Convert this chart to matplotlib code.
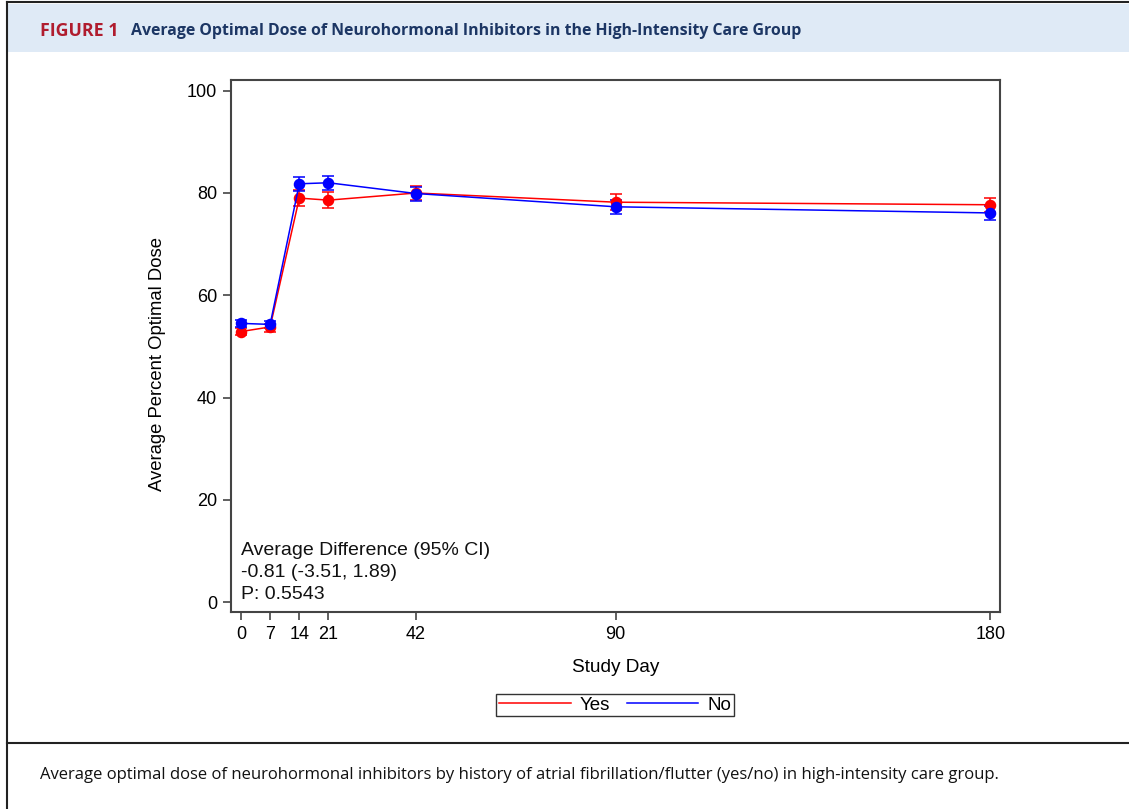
import matplotlib
matplotlib.use("Agg")
import matplotlib.pyplot as plt
from matplotlib.lines import Line2D
from matplotlib.patches import Rectangle
import numpy as np

# ---------------- data ----------------
days = [0, 7, 14, 21, 42, 90, 180]
yes_mean = [52.9, 53.8, 79.0, 78.6, 80.0, 78.2, 77.7]
yes_low = [52.3, 52.9, 77.4, 77.1, 78.6, 76.6, 76.2]
yes_high = [53.5, 54.4, 80.5, 80.1, 81.4, 79.8, 79.1]
no_mean = [54.5, 54.3, 81.8, 82.0, 79.9, 77.3, 76.1]
no_low = [53.8, 53.5, 80.4, 80.6, 78.5, 75.9, 74.8]
no_high = [55.1, 54.9, 83.1, 83.3, 81.2, 78.6, 77.4]
series_labels = ["Yes", "No"]
x_ticks = [0, 7, 14, 21, 42, 90, 180]
y_ticks = [0, 20, 40, 60, 80, 100]
annotation = "Average Difference (95% CI)\n-0.81 (-3.51, 1.89)\nP: 0.5543"
fig_label = "FIGURE 1"
title = "Average Optimal Dose of Neurohormonal Inhibitors in the High-Intensity Care Group"
caption = ("Average optimal dose of neurohormonal inhibitors by history of atrial "
           "fibrillation/flutter (yes/no) in high-intensity care group.")
x_label = "Study Day"
y_label = "Average Percent Optimal Dose"

W, H = 1129, 809
fig = plt.figure(figsize=(W / 100, H / 100), dpi=100)
fig.patch.set_facecolor("white")

def fx(px):
    return px / W

def fy(py):
    return 1 - py / H

# ---------- frame / header ----------
fig.add_artist(Rectangle((fx(8), fy(52)), 1 - fx(8), fy(4) - fy(52),
                         transform=fig.transFigure, facecolor="#dfeaf6",
                         edgecolor="none", zorder=0))
fig.add_artist(Line2D([fx(7), 1], [fy(2), fy(2)], transform=fig.transFigure,
                      color="#222222", lw=1.5))
fig.add_artist(Line2D([fx(7), fx(7)], [0, fy(2)], transform=fig.transFigure,
                      color="#222222", lw=1.5))
fig.add_artist(Line2D([fx(7), 1], [fy(743), fy(743)], transform=fig.transFigure,
                      color="#222222", lw=1.5))

renderer = fig.canvas.get_renderer()

def fit(txt, target_w):
    for _ in range(4):
        bb = txt.get_window_extent(renderer=renderer)
        txt.set_fontsize(txt.get_fontsize() * target_w / bb.width)

t1 = fig.text(fx(40), fy(31), fig_label, color="#b01c2e", fontweight="bold",
              family="Open Sans", fontsize=10, va="center", ha="left")
fit(t1, 78)
t2 = fig.text(fx(131), fy(31), title, color="#1c3664", fontweight="bold",
              family="Open Sans", fontsize=10, va="center", ha="left")
fit(t2, 669)
t3 = fig.text(fx(40), fy(775), caption, color="#111111",
              family="Open Sans", fontsize=10, va="center", ha="left")
fit(t3, 955)

# ---------------- axes ----------------
ax = fig.add_axes([fx(231), fy(612), fx(1000) - fx(231), fy(80) - fy(612)])
ax.set_xlim(-2.4, 182.3)
ax.set_ylim(-1.95, 102.1)

font = "Liberation Sans"
for mean, lo, hi, col, lab in [(yes_mean, yes_low, yes_high, "#ff0000", series_labels[0]),
                               (no_mean, no_low, no_high, "#0000ff", series_labels[1])]:
    m = np.array(mean)
    yerr = np.vstack([m - np.array(lo), np.array(hi) - m])
    ax.errorbar(days, m, yerr=yerr, color=col, lw=1.1, marker="o", markersize=7.3,
                capsize=4.5, capthick=1.1, elinewidth=1.1, label=lab)

ax.set_xticks(x_ticks)
ax.set_yticks(y_ticks)
ax.tick_params(direction="out", length=6, width=1.2, color="#444444",
               labelsize=13, pad=4)
for lbl in ax.get_xticklabels() + ax.get_yticklabels():
    lbl.set_family(font)
for sp in ax.spines.values():
    sp.set_color("#444444")
    sp.set_linewidth(1.5)

ax.set_xlabel(x_label, fontsize=13.7, family=font)
ax.xaxis.label.set_va("center")
ax.xaxis.set_label_coords(0.5, (612 - 667) / 532)
ax.set_ylabel(y_label, fontsize=13.3, family=font)
ax.yaxis.label.set_va("center")
ax.yaxis.set_label_coords((157 - 231) / 769, (612 - 364) / 532)

ax.text(0, 11.8, annotation, fontsize=14, family=font, ha="left", va="top",
        linespacing=1.4, color="#111111")

handles = [Line2D([], [], color="#ff0000", lw=1.1), Line2D([], [], color="#0000ff", lw=1.1)]
leg = fig.legend(handles, series_labels, loc="center",
                 bbox_to_anchor=(fx(615.5), fy(705)), ncol=2, frameon=True,
                 fancybox=False, edgecolor="black", handlelength=3.8,
                 handletextpad=0.5, columnspacing=0.9, borderpad=0.15,
                 prop={"family": font, "size": 13.5})
leg.get_frame().set_linewidth(1.0)

fig.savefig("out.png", dpi=100)
